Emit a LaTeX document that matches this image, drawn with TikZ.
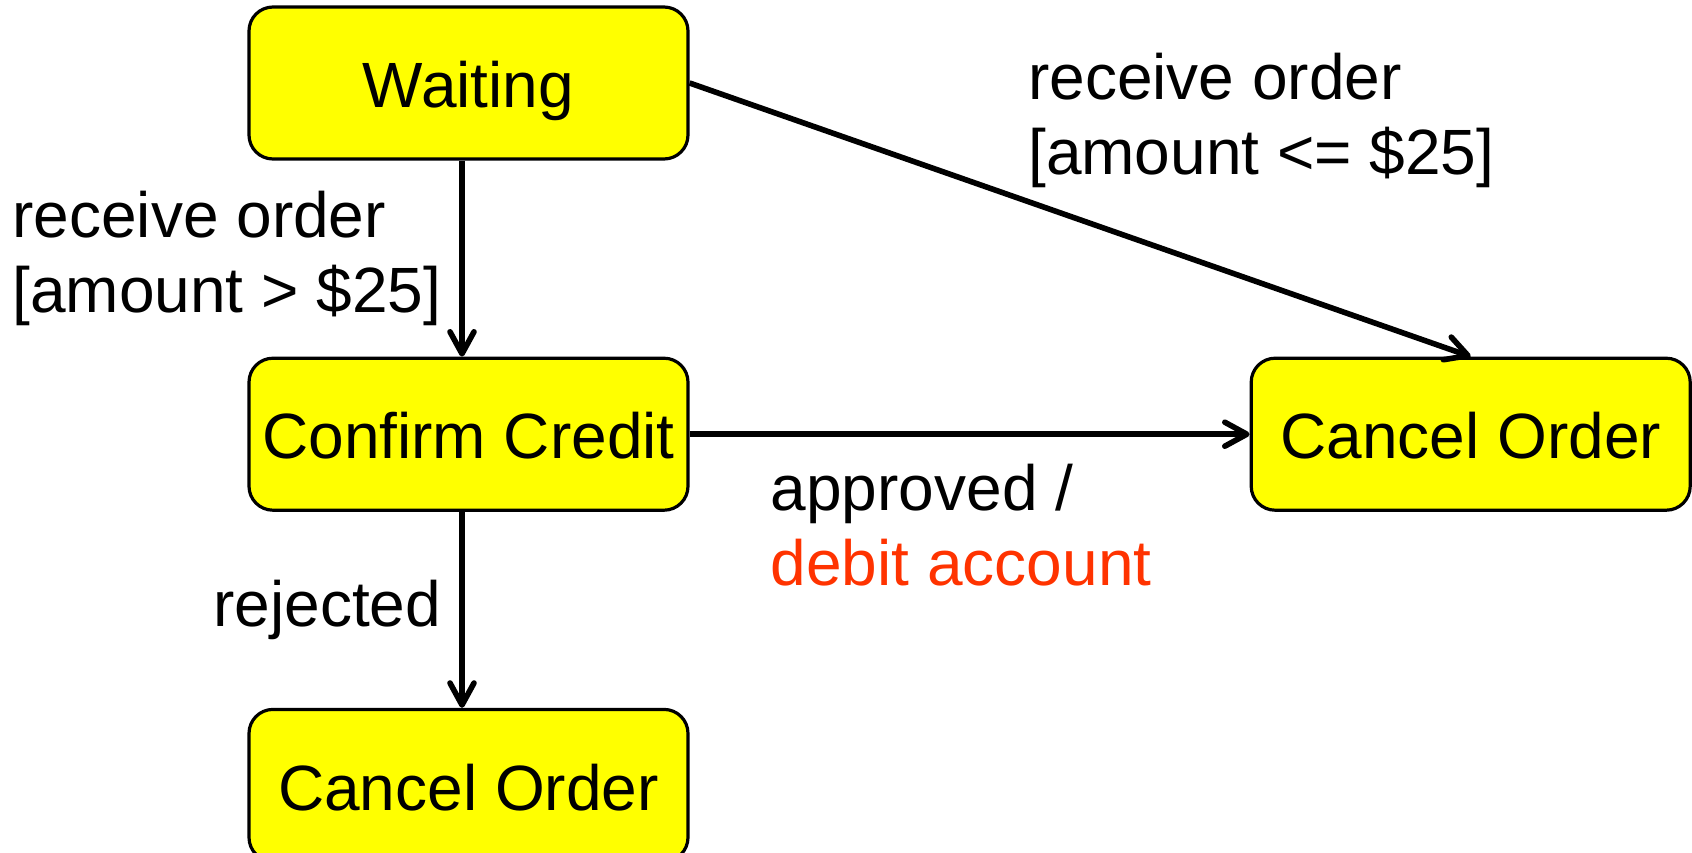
\documentclass[tikz,border=0pt]{standalone}
\usepackage{fontspec}
\setmainfont{Liberation Sans}
\usetikzlibrary{arrows.meta,positioning}
\definecolor{cY}{HTML}{FFFF00}
\definecolor{cR}{HTML}{FF3300}
\tikzset{
  state/.style={rounded corners=12pt,draw=black,line width=1.6pt,fill=cY,
              minimum width=219.5pt,minimum height=76pt,inner sep=0pt,
              text height=24.6pt,text depth=0pt},
  trans/.style={-{Straight Barb[length=11pt,width=12pt,round]},line width=2.8pt},
  lbl/.style={align=left,inner sep=0pt},
}

\begin{document}
\begin{tikzpicture}[node distance=98pt,font=\fontsize{32}{37.5}\selectfont]
  \path[use as bounding box](0,0) rectangle (846pt,-426pt);
  \node[state](wait) at (234.25pt,-41.5pt){Waiting};
  \node[state,below=of wait](conf){Confirm Credit};
  \node[state,below=of conf](canc){Cancel Order};
  \node[state,right=280pt of conf](cancr){Cancel Order};
  % guarded transitions out of Waiting
  \draw[trans]([xshift=-3.25pt]wait.south)--node[lbl,left=9pt]
    {receive order\\{[amount > \$25]}}([xshift=-3.25pt]conf.north);
  \draw[trans](wait.east)--node[lbl,pos=0.43,anchor=south west,yshift=5pt]
    {receive order\\{[amount <= \$25]}}(cancr.north);
  % outcome of the credit check
  \draw[trans](conf)--node[lbl,pos=0.14,anchor=north west,yshift=-13.5pt]
    {approved /\\\textcolor{cR}{debit account}}(cancr);
  \draw[trans]([xshift=-3.25pt]conf.south)--node[lbl,left=9pt]{rejected}
    ([xshift=-3.25pt]canc.north);
\end{tikzpicture}
\end{document}
